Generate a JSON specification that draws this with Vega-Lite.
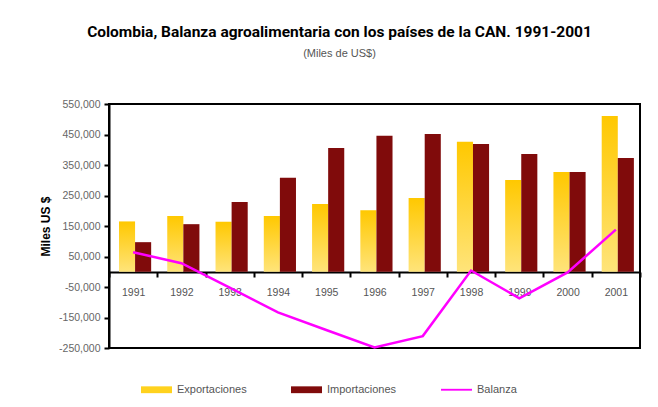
{
  "$schema": "https://vega.github.io/schema/vega-lite/v6.json",
  "width": 531,
  "height": 244,
  "autosize": {"type": "none"},
  "padding": {"left": 109, "top": 104, "right": 18, "bottom": 59},
  "background": "white",
  "title": {
    "text": "Colombia, Balanza agroalimentaria con los países de la CAN. 1991-2001",
    "subtitle": "(Miles de US$)",
    "font": "Roboto, Liberation Sans, sans-serif",
    "fontSize": 15.5,
    "fontWeight": "bold",
    "color": "#000000",
    "subtitleFont": "Liberation Sans, sans-serif",
    "subtitleFontSize": 11,
    "subtitleColor": "#555555",
    "subtitlePadding": 8,
    "anchor": "middle",
    "dx": -35,
    "offset": 40
  },
  "config": {
    "view": {"stroke": "#000000", "strokeWidth": 2},
    "locale": {"number": {"decimal": ".", "thousands": ",", "grouping": [3], "currency": ["$", ""], "minus": "-"}},
    "axis": {"labelFont": "Liberation Sans, sans-serif", "titleFont": "Liberation Sans, sans-serif"},
    "legend": {"labelFont": "Liberation Sans, sans-serif"}
  },
  "data": {
    "values": [
      {"anio": "1991", "serie": "Exportaciones", "valor": 165000},
      {"anio": "1992", "serie": "Exportaciones", "valor": 183000},
      {"anio": "1993", "serie": "Exportaciones", "valor": 164000},
      {"anio": "1994", "serie": "Exportaciones", "valor": 183000},
      {"anio": "1995", "serie": "Exportaciones", "valor": 222000},
      {"anio": "1996", "serie": "Exportaciones", "valor": 202000},
      {"anio": "1997", "serie": "Exportaciones", "valor": 242000},
      {"anio": "1998", "serie": "Exportaciones", "valor": 426000},
      {"anio": "1999", "serie": "Exportaciones", "valor": 301000},
      {"anio": "2000", "serie": "Exportaciones", "valor": 327000},
      {"anio": "2001", "serie": "Exportaciones", "valor": 511000},
      {"anio": "1991", "serie": "Importaciones", "valor": 97000},
      {"anio": "1992", "serie": "Importaciones", "valor": 156000},
      {"anio": "1993", "serie": "Importaciones", "valor": 229000},
      {"anio": "1994", "serie": "Importaciones", "valor": 308000},
      {"anio": "1995", "serie": "Importaciones", "valor": 406000},
      {"anio": "1996", "serie": "Importaciones", "valor": 446000},
      {"anio": "1997", "serie": "Importaciones", "valor": 452000},
      {"anio": "1998", "serie": "Importaciones", "valor": 419000},
      {"anio": "1999", "serie": "Importaciones", "valor": 386000},
      {"anio": "2000", "serie": "Importaciones", "valor": 327000},
      {"anio": "2001", "serie": "Importaciones", "valor": 373000},
      {"anio": "1991", "serie": "Balanza", "valor": 64000},
      {"anio": "1992", "serie": "Balanza", "valor": 28000},
      {"anio": "1993", "serie": "Balanza", "valor": -52000},
      {"anio": "1994", "serie": "Balanza", "valor": -133000},
      {"anio": "1995", "serie": "Balanza", "valor": -191000},
      {"anio": "1996", "serie": "Balanza", "valor": -248000},
      {"anio": "1997", "serie": "Balanza", "valor": -211000},
      {"anio": "1998", "serie": "Balanza", "valor": 4000},
      {"anio": "1999", "serie": "Balanza", "valor": -87000},
      {"anio": "2000", "serie": "Balanza", "valor": -2000},
      {"anio": "2001", "serie": "Balanza", "valor": 138000}
    ]
  },
  "encoding": {
    "x": {
      "field": "anio",
      "type": "ordinal",
      "scale": {"paddingInner": 0, "paddingOuter": 0},
      "axis": {
        "title": null,
        "labelAngle": 0,
        "offset": -76,
        "tickBand": "extent",
        "domainColor": "#000000",
        "domainWidth": 2,
        "tickColor": "#000000",
        "tickWidth": 2,
        "tickSize": 5,
        "labelColor": "#555555",
        "labelFontSize": 10.5,
        "labelPadding": 10
      }
    },
    "y": {
      "field": "valor",
      "type": "quantitative",
      "scale": {"domain": [-250000, 550000], "nice": false, "zero": false},
      "axis": {
        "title": "Miles US $",
        "titleFontSize": 12,
        "titleFontWeight": "bold",
        "titleColor": "#000000",
        "titlePadding": 6,
        "values": [-250000, -150000, -50000, 50000, 150000, 250000, 350000, 450000, 550000],
        "format": ",.0f",
        "grid": false,
        "domainColor": "#000000",
        "domainWidth": 2,
        "tickColor": "#000000",
        "tickWidth": 2,
        "tickSize": 5,
        "labelColor": "#666666",
        "labelFontSize": 10.5,
        "labelPadding": 4
      }
    }
  },
  "layer": [
    {
      "transform": [{"filter": "datum.serie === 'Exportaciones'"}],
      "mark": {
        "type": "bar",
        "fill": {
          "gradient": "linear",
          "x1": 0, "y1": 0, "x2": 0, "y2": 1,
          "stops": [
            {"offset": 0, "color": "#FFC800"},
            {"offset": 1, "color": "#FFE47A"}
          ]
        }
      },
      "encoding": {
        "xOffset": {
          "field": "serie",
          "type": "nominal",
          "scale": {"domain": ["Exportaciones", "Importaciones"], "paddingInner": 0, "paddingOuter": 0.5, "align": 0.62}
        }
      }
    },
    {
      "transform": [{"filter": "datum.serie === 'Importaciones'"}],
      "mark": {"type": "bar"},
      "encoding": {
        "xOffset": {
          "field": "serie",
          "type": "nominal",
          "scale": {"domain": ["Exportaciones", "Importaciones"], "paddingInner": 0, "paddingOuter": 0.5, "align": 0.62}
        },
        "color": {
          "field": "serie",
          "type": "nominal",
          "scale": {
            "domain": ["Exportaciones", "Importaciones", "Balanza"],
            "range": ["#FFD21E", "#800B0B", "#FF00FF"]
          },
          "legend": {
            "title": null,
            "orient": "none",
            "legendX": 32,
            "legendY": 270,
            "direction": "horizontal",
            "columns": 3,
            "gridAlign": "all",
            "columnPadding": 44,
            "symbolSize": 961,
            "symbolStrokeWidth": 0,
            "labelColor": "#555555",
            "labelFontSize": 11,
            "labelOffset": 5,
            "encode": {
              "symbols": {
                "update": {
                  "shape": {"signal": "datum.value === 'Balanza' ? 'M-1,-0.06L1,-0.06L1,0.06L-1,0.06Z' : 'M-1,-0.22L1,-0.22L1,0.22L-1,0.22Z'"},
                  "fill": {"signal": "datum.value === 'Exportaciones' ? {gradient: 'linear', x1: 0, y1: 0, x2: 0, y2: 1, stops: [{offset: 0, color: '#FFC800'}, {offset: 1, color: '#FFE47A'}]} : scale('color', datum.value)"},
                  "opacity": {"value": 1}
                }
              }
            }
          }
        }
      }
    },
    {
      "transform": [{"filter": "datum.serie === 'Balanza'"}],
      "mark": {"type": "line", "strokeWidth": 2.5},
      "encoding": {
        "color": {"field": "serie", "type": "nominal", "legend": null}
      }
    }
  ]
}
